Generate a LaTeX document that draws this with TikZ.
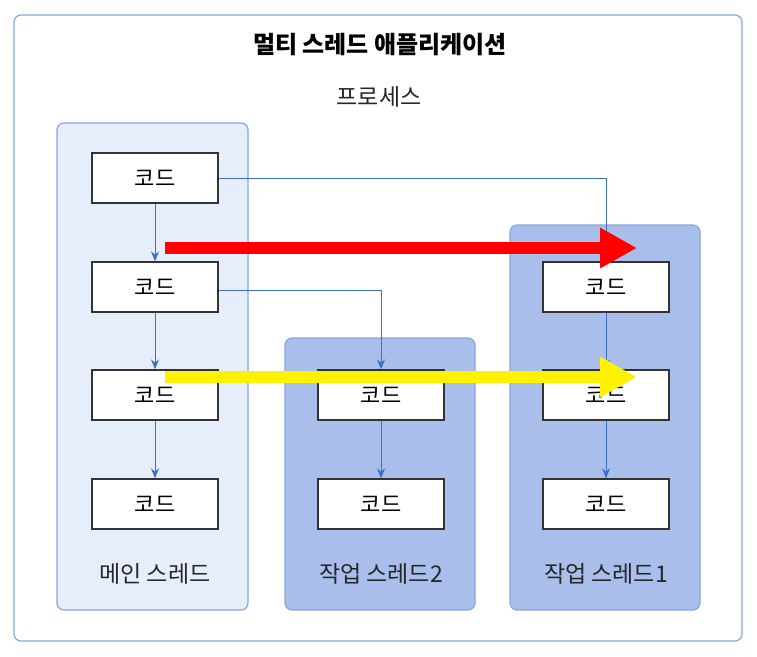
\documentclass[tikz,border=0pt]{standalone}
\usepackage{fontspec}
\setmainfont{Noto Sans CJK KR}
\usetikzlibrary{arrows.meta,positioning}

\definecolor{frameblue}{HTML}{86A6DE}
\definecolor{lightpanel}{HTML}{E6EEFB}
\definecolor{darkpanel}{HTML}{A9BEEB}
\definecolor{linkblue}{HTML}{3A6FCC}

\tikzset{
    panel/.style={draw=frameblue, line width=1.2pt, rounded corners=7pt},
    codebox/.style={draw=black!80, fill=white, line width=1.3pt,
        minimum width=126pt, minimum height=50pt, inner sep=0pt,
        font=\fontsize{22}{24}\selectfont},
    label/.style={font=\fontsize{23}{26}\selectfont, text=black!85},
    link/.style={draw=linkblue, line width=1pt, -{Stealth[length=10pt,width=8pt]}},
    bigarrow/.style={line width=12pt, -{Triangle[length=37pt,width=38pt]}}
}

\begin{document}
\begin{tikzpicture}[x=1pt, y=-1pt]
    \useasboundingbox (0, 0) rectangle (757, 656);

    % frame and thread panels
    \draw[panel, fill=white] (14, 15) rectangle (742, 641);
    \draw[panel, fill=lightpanel] (57, 123) rectangle (248, 610);
    \draw[panel, fill=darkpanel] (285, 338) rectangle (475, 610);
    \draw[panel, fill=darkpanel] (510, 225) rectangle (700, 610);

    \node[font=\fontsize{24}{26}\selectfont\bfseries] (title) at (380, 45) {멀티 스레드 애플리케이션};
    \node[label] (process) at (379, 97) {프로세스};

    % code boxes
    \foreach \y [count=\i] in {178, 287, 395, 504}
        \node[codebox] (main\i) at (155, \y) {코드};
    \foreach \y [count=\i] in {395, 504}
        \node[codebox] (worktwo\i) at (381, \y) {코드};
    \foreach \y [count=\i] in {287, 395, 504}
        \node[codebox] (workone\i) at (606, \y) {코드};

    \node[label] (mainname) at (155, 574) {메인 스레드};
    \node[label] (worktwoname) at (381, 574) {작업 스레드2};
    \node[label] (workonename) at (606, 574) {작업 스레드1};

    % flow inside each thread
    \foreach \a/\b in {main1/main2, main2/main3, main3/main4,
                       worktwo1/worktwo2, workone1/workone2, workone2/workone3}
        \draw[link] (\a) -- (\b);

    % starting the work threads
    \draw[link] (main1.east) -| (workone1.north);
    \draw[link] ([yshift=-3pt]main2.east) -| (worktwo1.north);

    % time arrows
    \coordinate (redstart) at (165, 248);
    \coordinate (redend) at (637, 248);
    \coordinate (yellowstart) at (165, 377);
    \coordinate (yellowend) at (637, 377);
    \draw[bigarrow, red] (redstart) -- (redend);
    \draw[bigarrow, yellow] (yellowstart) -- (yellowend);
\end{tikzpicture}
\end{document}
